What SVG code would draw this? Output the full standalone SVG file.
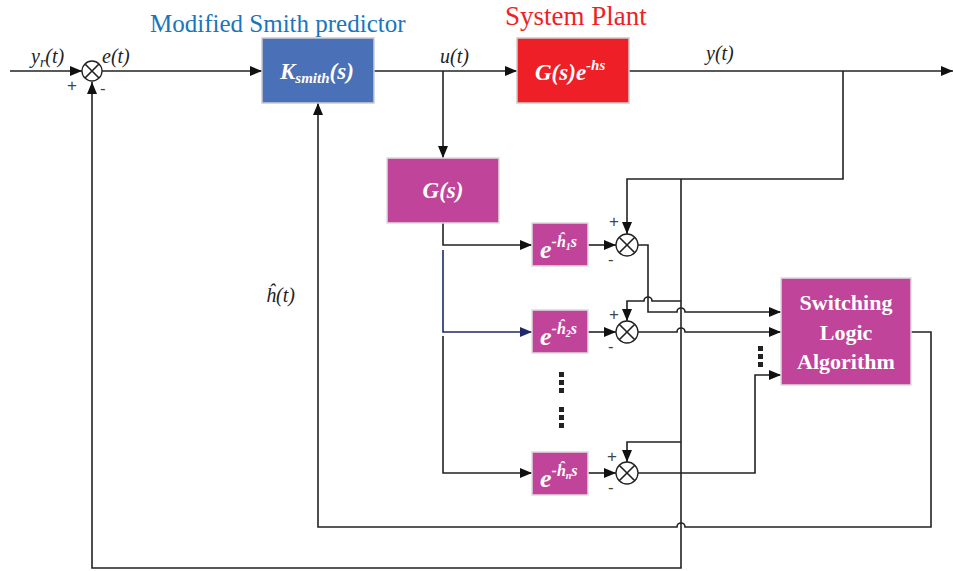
<svg xmlns="http://www.w3.org/2000/svg" width="953" height="571" viewBox="0 0 953 571">
<defs>
<marker id="ar" viewBox="0 0 12 10" refX="12" refY="5" markerWidth="12" markerHeight="10" markerUnits="userSpaceOnUse" orient="auto"><path d="M0,0 L12,5 L0,10 Z" fill="#111"/></marker>
<marker id="arb" viewBox="0 0 12 10" refX="12" refY="5" markerWidth="12" markerHeight="10" markerUnits="userSpaceOnUse" orient="auto"><path d="M0,0 L12,5 L0,10 Z" fill="#1f2a6b"/></marker>
</defs>
<style>
.w{fill:none;stroke:#222;stroke-width:1.6}
.a{marker-end:url(#ar)}
.sum{fill:#fff;stroke:#222;stroke-width:1.3}
.ser{font-family:"Liberation Serif","Tinos","Times New Roman","Nimbus Roman","DejaVu Serif",serif}
.lbl{font-family:"Liberation Serif","Tinos","Times New Roman","Nimbus Roman","DejaVu Serif",serif;font-style:italic;font-size:20px;fill:#222}
.pm{font-family:"Liberation Sans","Arial",sans-serif;font-size:17px;fill:#444}
.bx{font-family:"Liberation Serif","Tinos","Times New Roman","Nimbus Roman","DejaVu Serif",serif;font-style:italic;font-weight:bold;fill:#fff}
.mag{fill:#c0449a;stroke:#ddd;stroke-width:1.5}
.sw{font-family:"Liberation Serif","Tinos","Times New Roman","Nimbus Roman","DejaVu Serif",serif;font-weight:bold;font-size:22px;fill:#fff;text-anchor:middle}
</style>
<g id="connectors">
<path class="w a" d="M10,71 H82"/>
<path class="w a" d="M102,71 H262"/>
<path class="w a" d="M374,71 H517"/>
<path class="w a" d="M629,71 H953"/>
<path class="w a" d="M443,71 V158"/>
<path class="w a" d="M443,223 V245 H532"/>
<path d="M443,250 V332 H532" fill="none" stroke="#1f2a6b" stroke-width="1.6" marker-end="url(#arb)"/>
<path class="w a" d="M443,336 V473 H532"/>
<path class="w a" d="M588,245 H616"/>
<path class="w a" d="M588,332 H616"/>
<path class="w a" d="M588,473 H616"/>
<path class="w a" d="M843,71 V179 H627 V234"/>
<path class="w a" d="M681,179 V568 H92 V82"/>
<path class="w a" d="M681,301 H652 a4,4 0 0 0 -8,0 H627 V321"/>
<path class="w a" d="M638,245 H648 V312 H677 a4,4 0 0 1 8,0 H781"/>
<path class="w a" d="M638,332 H677 a4,4 0 0 1 8,0 H781"/>
<path class="w a" d="M681,442 H627 V462"/>
<path class="w a" d="M638,473 H755 V375 H781"/>
<path class="w a" d="M911,332 H931 V527 H685 a4,4 0 0 0 -8,0 H318 V103"/>
</g>
<g id="sum0"><circle class="sum" cx="92" cy="71" r="10"/><path class="w" stroke-width="1.2" d="M85,64 L99,78 M99,64 L85,78"/><text class="pm" x="67" y="91">+</text><text class="pm" x="100" y="94">-</text></g>
<g id="sum1"><circle class="sum" cx="627" cy="245" r="11"/><path class="w" stroke-width="1.2" d="M619.2,237.2 L634.8,252.8 M634.8,237.2 L619.2,252.8"/><text class="pm" x="609" y="227">+</text><text class="pm" x="608" y="265">-</text></g>
<g id="sum2"><circle class="sum" cx="627" cy="332" r="11"/><path class="w" stroke-width="1.2" d="M619.2,324.2 L634.8,339.8 M634.8,324.2 L619.2,339.8"/><text class="pm" x="609" y="320">+</text><text class="pm" x="608" y="352">-</text></g>
<g id="sumn"><circle class="sum" cx="627" cy="473" r="11"/><path class="w" stroke-width="1.2" d="M619.2,465.2 L634.8,480.8 M634.8,465.2 L619.2,480.8"/><text class="pm" x="607" y="462">+</text><text class="pm" x="608" y="493">-</text></g>
<g id="ksmith"><rect x="262" y="38" width="112" height="65" fill="#4a70b8" stroke="#ccc" stroke-width="1.5"/><text class="bx" x="280" y="79" font-size="23">K<tspan font-size="15" dy="4">smith</tspan><tspan font-size="23" dy="-4">(s)</tspan></text></g>
<g id="plant"><rect x="517" y="38" width="112" height="65" fill="#ee1f26" stroke="#ccc" stroke-width="1.5"/><text class="bx" x="535" y="80" font-size="23">G(s)e<tspan font-size="15" dy="-10">-hs</tspan></text></g>
<g id="gs"><rect class="mag" x="387" y="158" width="112" height="65"/><text class="bx" x="443" y="198" font-size="23" text-anchor="middle">G(s)</text></g>
<g id="d1"><rect class="mag" x="532" y="223" width="56" height="43"/><text class="bx" x="540" y="258" font-size="26">e<tspan font-size="16" dy="-11">-ĥ</tspan><tspan font-size="10" dy="3">1</tspan><tspan font-size="16" dy="-3">s</tspan></text></g>
<g id="d2"><rect class="mag" x="532" y="310" width="56" height="43"/><text class="bx" x="540" y="345" font-size="26">e<tspan font-size="16" dy="-11">-ĥ</tspan><tspan font-size="10" dy="3">2</tspan><tspan font-size="16" dy="-3">s</tspan></text></g>
<g id="dn"><rect class="mag" x="532" y="452" width="56" height="43"/><text class="bx" x="540" y="487" font-size="26">e<tspan font-size="16" dy="-11">-ĥ</tspan><tspan font-size="10" dy="3">n</tspan><tspan font-size="16" dy="-3">s</tspan></text></g>
<g id="switch"><rect class="mag" x="781" y="278" width="130" height="107"/><text class="sw" x="846" y="310">Switching</text><text class="sw" x="846" y="340">Logic</text><text class="sw" x="846" y="369">Algorithm</text></g>
<g id="dots" fill="#222">
<rect x="559" y="372" width="5" height="5"/><rect x="559" y="380" width="5" height="5"/><rect x="559" y="388" width="5" height="5"/>
<rect x="559" y="407" width="5" height="5"/><rect x="559" y="415" width="5" height="5"/><rect x="559" y="423" width="5" height="5"/>
<rect x="758" y="346" width="5" height="5"/><rect x="758" y="354" width="5" height="5"/><rect x="758" y="362" width="5" height="5"/>
</g>
<g id="labels">
<text class="ser" x="150" y="32" font-size="25" fill="#1b75bc">Modified Smith predictor</text>
<text class="ser" x="505" y="25" font-size="27" fill="#ee1f26">System Plant</text>
<text class="lbl" x="31" y="63">y<tspan font-size="14" dy="4">r</tspan><tspan dy="-4">(t)</tspan></text>
<text class="lbl" x="102" y="63">e(t)</text>
<text class="lbl" x="440" y="63">u(t)</text>
<text class="lbl" x="706" y="60">y(t)</text>
<text class="lbl" x="266" y="302">ĥ(t)</text>
</g>
</svg>
